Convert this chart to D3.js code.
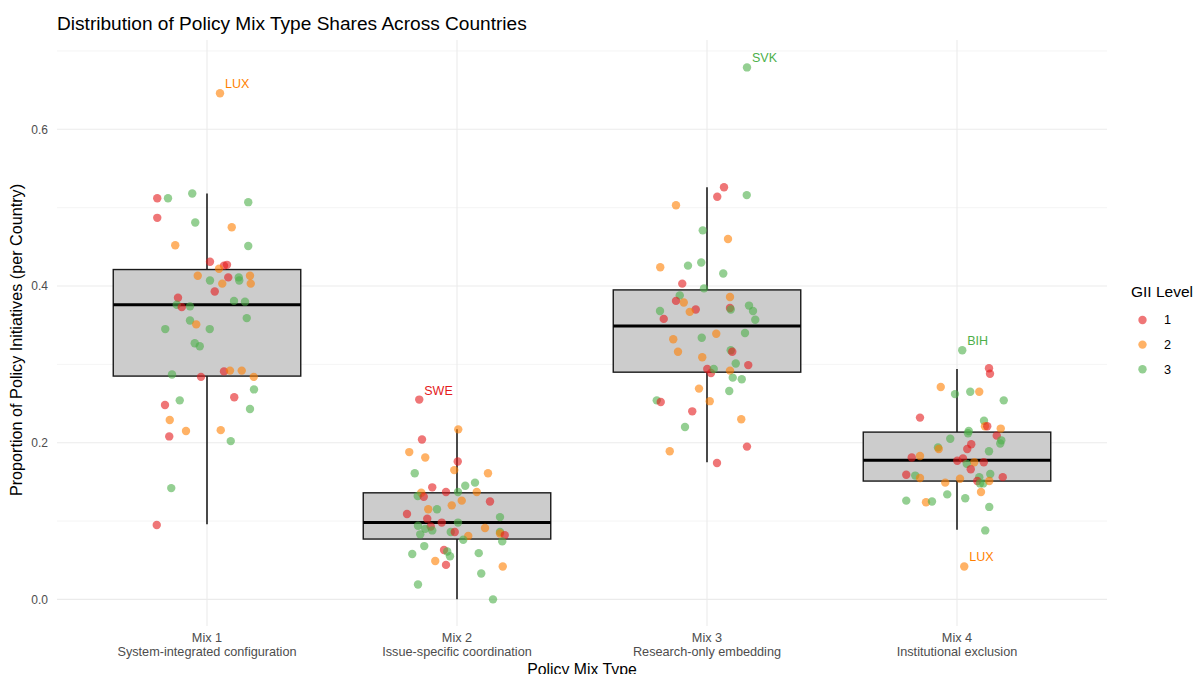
<!DOCTYPE html>
<html>
<head>
<meta charset="utf-8">
<script src="https://cdn.jsdelivr.net/npm/d3@7"></script>
<style>
  body { margin: 0; background: #fff; }
  svg { font-family: "Liberation Sans", Arial, sans-serif; }
</style>
</head>
<body>
<div id="chart"></div>
<script>
// categories + axis text
const mixes = ["Mix 1", "Mix 2", "Mix 3", "Mix 4"];
const mixNames = ["System-integrated configuration", "Issue-specific coordination", "Research-only embedding", "Institutional exclusion"];
const giiLevels = [1, 2, 3];
const yTicks = [0, 0.2, 0.4, 0.6];
const yMinor = [0.1, 0.3, 0.5, 0.7];

// box stats
const boxLow = [0.096, 0.0, 0.175, 0.089];
const boxQ1 = [0.285, 0.077, 0.29, 0.151];
const boxMedian = [0.376, 0.098, 0.349, 0.1775];
const boxQ3 = [0.421, 0.136, 0.395, 0.2135];
const boxHigh = [0.518, 0.217, 0.526, 0.294];

// points: [share, gii level, jitter (fraction of category step), label]
const mix1 = [
  [0.512,1,-0.199],[0.512,3,-0.156],[0.518,3,-0.059],[0.507,3,0.165],[0.487,1,-0.199],
  [0.481,3,-0.047],[0.475,2,0.099],[0.452,2,-0.127],[0.451,3,0.165],[0.431,1,0.012],
  [0.426,1,0.068],[0.427,1,0.08],[0.422,2,0.048],[0.413,2,-0.037],[0.407,3,0.012],
  [0.411,1,0.085],[0.411,3,0.127],[0.407,3,0.129],[0.413,2,0.172],[0.403,2,0.175],
  [0.403,2,0.061],[0.393,1,0.031],[0.385,1,-0.116],[0.376,3,-0.121],[0.373,1,-0.101],
  [0.374,3,-0.068],[0.381,3,0.108],[0.380,3,0.152],[0.359,3,0.159],[0.356,3,-0.068],
  [0.351,2,-0.043],[0.345,3,-0.167],[0.345,3,0.011],[0.327,3,-0.049],[0.323,3,-0.029],
  [0.287,3,-0.14],[0.284,1,-0.024],[0.291,1,0.068],[0.292,2,0.092],[0.292,2,0.139],
  [0.284,2,0.187],[0.268,3,0.188],[0.258,1,0.109],[0.243,3,0.172],[0.254,3,-0.109],
  [0.248,1,-0.168],[0.229,2,-0.149],[0.215,2,-0.084],[0.208,1,-0.151],[0.216,2,0.055],
  [0.202,3,0.095],[0.142,3,-0.143],[0.095,1,-0.201],[0.646,2,0.052,"LUX"]
];
const mix2 = [
  [0.255,1,-0.151,"SWE"],[0.217,2,0.005],[0.204,1,-0.14],[0.188,2,-0.191],[0.181,2,-0.127],
  [0.176,1,0.003],[0.165,2,-0.011],[0.161,3,-0.169],[0.161,2,0.124],[0.145,3,0.033],
  [0.149,3,0.072],[0.143,1,-0.099],[0.137,2,0.079],[0.137,1,-0.044],[0.137,3,0.004],
  [0.136,2,-0.143],[0.132,3,-0.157],[0.131,1,-0.133],[0.125,1,0.132],[0.126,2,0.019],
  [0.120,2,-0.021],[0.115,2,-0.115],[0.115,3,-0.08],[0.109,1,-0.2],[0.105,3,0.172],
  [0.103,1,-0.119],[0.098,1,-0.061],[0.098,3,0.004],[0.094,3,-0.156],[0.093,1,-0.105],
  [0.090,3,-0.127],[0.088,3,-0.099],[0.091,2,0.112],[0.083,3,-0.147],[0.086,3,-0.025],
  [0.086,1,-0.009],[0.081,2,0.045],[0.076,3,0.025],[0.086,3,0.172],[0.084,2,0.172],
  [0.082,1,0.191],[0.074,3,0.181],[0.068,3,-0.131],[0.063,1,-0.052],[0.061,3,-0.039],
  [0.055,3,-0.028],[0.058,3,-0.179],[0.059,3,0.087],[0.049,2,-0.087],[0.044,1,-0.044],
  [0.042,2,0.183],[0.033,3,0.097],[0.019,3,-0.156],[0.000,3,0.144]
];
const mix3 = [
  [0.679,3,0.16,"SVK"],[0.526,1,0.068],[0.514,1,0.041],[0.516,3,0.159],[0.503,2,-0.124],
  [0.471,3,-0.017],[0.460,2,0.084],[0.424,2,-0.187],[0.426,3,-0.076],[0.430,3,-0.023],
  [0.416,3,0.065],[0.403,1,-0.099],[0.397,3,-0.012],[0.388,3,-0.109],[0.386,2,0.092],
  [0.381,1,-0.124],[0.379,2,-0.093],[0.370,1,-0.045],[0.367,2,-0.069],[0.372,1,0.092],
  [0.370,3,0.095],[0.375,3,0.168],[0.368,3,0.184],[0.357,3,0.193],[0.368,3,-0.188],
  [0.358,1,-0.173],[0.339,2,0.037],[0.340,3,0.152],[0.334,3,-0.021],[0.332,2,-0.135],
  [0.316,2,-0.116],[0.318,3,0.095],[0.316,1,0.101],[0.309,2,-0.019],[0.301,3,0.115],
  [0.299,1,0.165],[0.294,1,0.001],[0.289,1,0.016],[0.294,3,0.027],[0.292,2,0.092],
  [0.283,3,0.103],[0.281,3,0.139],[0.266,3,0.089],[0.269,2,-0.032],[0.253,2,0.011],
  [0.254,3,-0.201],[0.252,1,-0.185],[0.240,1,-0.059],[0.230,2,0.137],[0.220,3,-0.088],
  [0.189,2,-0.149],[0.195,1,0.16],[0.174,1,0.04]
];
const mix4 = [
  [0.318,3,0.021,"BIH"],[0.295,1,0.128],[0.288,1,0.132],[0.271,2,-0.065],[0.262,3,-0.008],
  [0.265,3,0.053],[0.265,2,0.089],[0.254,3,0.187],[0.232,1,-0.148],[0.228,3,0.108],
  [0.221,2,0.112],[0.221,1,0.121],[0.218,2,0.175],[0.215,3,0.047],[0.212,3,0.044],
  [0.209,1,0.159],[0.203,3,0.177],[0.199,3,0.173],[0.205,3,-0.027],[0.198,1,0.057],
  [0.192,1,0.041],[0.194,3,-0.076],[0.192,2,-0.073],[0.189,3,0.128],[0.181,1,-0.181],
  [0.183,2,-0.148],[0.177,1,0.001],[0.180,1,0.024],[0.175,2,0.069],[0.175,1,0.107],
  [0.173,3,0.039],[0.166,1,0.055],[0.159,1,-0.203],[0.158,3,-0.167],[0.155,2,-0.148],
  [0.160,3,0.133],[0.156,1,0.183],[0.154,2,0.012],[0.156,3,0.089],[0.151,1,0.081],
  [0.148,3,0.092],[0.148,3,0.105],[0.151,2,0.129],[0.149,2,-0.047],[0.137,2,0.096],
  [0.134,3,-0.039],[0.126,3,-0.203],[0.124,2,-0.124],[0.125,3,-0.1],[0.129,3,0.033],
  [0.118,3,0.129],[0.088,3,0.113],[0.042,2,0.029,"LUX"]
];
const pointsByMix = [mix1, mix2, mix3, mix4];

const W = 1200, H = 674;
const margin = { top: 40, right: 93, bottom: 48, left: 57 };

const svg = d3.select("#chart").append("svg")
  .attr("width", W).attr("height", H);

const x = d3.scalePoint().domain(mixes).range([margin.left, W - margin.right]).padding(0.6);
const y = d3.scaleLinear().domain([-0.034, 0.714]).range([H - margin.bottom, margin.top]);
const color = d3.scaleOrdinal().domain(giiLevels).range(["#E41A1C", "#FF7F00", "#4DAF4A"]);
const boxW = x.step() * 0.75;

// grid
const grid = svg.append("g");
grid.selectAll(".minor").data(yMinor).enter().append("line")
  .attr("x1", margin.left).attr("x2", W - margin.right)
  .attr("y1", d => y(d)).attr("y2", d => y(d))
  .attr("stroke", "#EBEBEB").attr("stroke-width", 0.55);
grid.selectAll(".major").data(yTicks).enter().append("line")
  .attr("x1", margin.left).attr("x2", W - margin.right)
  .attr("y1", d => y(d)).attr("y2", d => y(d))
  .attr("stroke", "#EBEBEB").attr("stroke-width", 1.1);
grid.selectAll(".vmajor").data(mixes).enter().append("line")
  .attr("x1", d => x(d)).attr("x2", d => x(d))
  .attr("y1", margin.top).attr("y2", H - margin.bottom)
  .attr("stroke", "#EBEBEB").attr("stroke-width", 1.1);

// y axis ticks
svg.append("g").selectAll("text").data(yTicks).enter().append("text")
  .attr("x", margin.left - 9).attr("y", d => y(d)).attr("dy", "0.35em")
  .attr("text-anchor", "end").attr("font-size", 12).attr("fill", "#4D4D4D")
  .text(d => d3.format(".1f")(d));

// x axis ticks, two lines
const xt = svg.append("g").selectAll("text").data(mixes).enter().append("text")
  .attr("text-anchor", "middle").attr("font-size", 12.7).attr("fill", "#4D4D4D");
xt.append("tspan").attr("x", d => x(d)).attr("y", H - margin.bottom + 16).text(d => d);
xt.append("tspan").attr("x", d => x(d)).attr("y", H - margin.bottom + 30).text((d, i) => mixNames[i]);

// boxes
const boxes = svg.append("g").selectAll("g").data(mixes).enter().append("g");
boxes.append("line")
  .attr("x1", d => x(d)).attr("x2", d => x(d))
  .attr("y1", (d, i) => y(boxHigh[i])).attr("y2", (d, i) => y(boxQ3[i]))
  .attr("stroke", "#000").attr("stroke-width", 1.4);
boxes.append("line")
  .attr("x1", d => x(d)).attr("x2", d => x(d))
  .attr("y1", (d, i) => y(boxQ1[i])).attr("y2", (d, i) => y(boxLow[i]))
  .attr("stroke", "#000").attr("stroke-width", 1.4);
boxes.append("rect")
  .attr("x", d => x(d) - boxW / 2).attr("width", boxW)
  .attr("y", (d, i) => y(boxQ3[i])).attr("height", (d, i) => y(boxQ1[i]) - y(boxQ3[i]))
  .attr("fill", "#CCCCCC").attr("stroke", "#1a1a1a").attr("stroke-width", 1.4);
boxes.append("line")
  .attr("x1", d => x(d) - boxW / 2).attr("x2", d => x(d) + boxW / 2)
  .attr("y1", (d, i) => y(boxMedian[i])).attr("y2", (d, i) => y(boxMedian[i]))
  .attr("stroke", "#000").attr("stroke-width", 3);

// jittered points
const pts = [];
pointsByMix.forEach((arr, i) => arr.forEach(p => pts.push({ mix: mixes[i], v: p[0], g: p[1], j: p[2], label: p[3] })));

svg.append("g").selectAll("circle").data(pts).enter().append("circle")
  .attr("cx", d => x(d.mix) + d.j * x.step())
  .attr("cy", d => y(d.v))
  .attr("r", 4.2)
  .attr("fill", d => color(d.g))
  .attr("fill-opacity", 0.6);

// outlier labels
svg.append("g").selectAll("text").data(pts.filter(d => d.label)).enter().append("text")
  .attr("x", d => x(d.mix) + d.j * x.step() + 5)
  .attr("y", d => y(d.v) - 5)
  .attr("font-size", 12.5)
  .attr("fill", d => color(d.g))
  .text(d => d.label);

// titles
svg.append("text").attr("x", margin.left).attr("y", 29.5)
  .attr("font-size", 19.1).attr("fill", "#000")
  .text("Distribution of Policy Mix Type Shares Across Countries");

svg.append("text")
  .attr("transform", `translate(22,${(margin.top + H - margin.bottom) / 2 + 7}) rotate(-90)`)
  .attr("text-anchor", "middle").attr("font-size", 16.2)
  .text("Proportion of Policy Initiatives (per Country)");

svg.append("text")
  .attr("x", (margin.left + W - margin.right) / 2).attr("y", 675)
  .attr("text-anchor", "middle").attr("font-size", 15.8)
  .text("Policy Mix Type");

// legend
const legend = svg.append("g").attr("transform", "translate(1131,0)");
legend.append("text").attr("x", 0).attr("y", 296.5).attr("font-size", 15.5).text("GII Level");
const items = legend.selectAll(".item").data(giiLevels).enter().append("g")
  .attr("transform", (d, i) => `translate(0,${320 + i * 24.6})`);
items.append("circle").attr("cx", 11.5).attr("cy", 0).attr("r", 4.2)
  .attr("fill", d => color(d)).attr("fill-opacity", 0.6);
items.append("text").attr("x", 33).attr("y", 0).attr("dy", "0.35em")
  .attr("font-size", 12.7).text(d => d);
</script>
</body>
</html>
